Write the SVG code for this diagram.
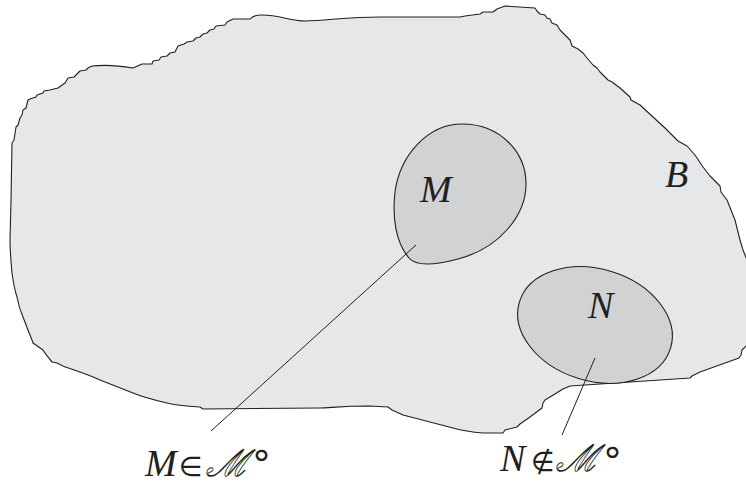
<svg xmlns="http://www.w3.org/2000/svg" width="746" height="485" viewBox="0 0 746 485">
<style>
.outline{stroke:#231f20;stroke-width:1.1;stroke-linejoin:round}
.blob{fill:#e6e7e8}
.sub{fill:#d1d2d4}
.lbl{font-family:"Liberation Serif","DejaVu Serif",serif;font-style:italic;font-size:38px;fill:#231f20}
.up{font-family:"DejaVu Sans","Liberation Serif",serif;font-style:normal;fill:#231f20}
.scr{font-family:"DejaVu Serif",serif;font-style:italic;font-size:37px;fill:#fff;stroke:#231f20;stroke-width:0.8}
.conn{stroke:#231f20;stroke-width:1;fill:none}
</style>
<g id="B">
<path class="blob outline" d="M10,240 L11,200 L12,143 L14,140 L16,127 L18,125 L20,118 L22,115 L23,110 L26,108 L28,100 L30,99 L36,97 L37,95 L43,93 L44,91 L50,90 L58,88 L65,83 L68,78 L74,77 L80,71 L86,70 L88,68 L92,66 Q110,64 133,68 L142,64 L152,64 L153,61 L159,60 L161,57 L167,56 L170,53 L175,52 L178,46 L184,44 L187,42 L193,41 L196,38 L200,37 L203,34 L207,33 L210,30 L214,29 L216,26 L225,25 L227,22 L233,19 L250,19 Q253,15 262,15 C280,15 290,21 305,21 C330,20 350,17 380,17 L460,17 L465,16 L480,14 L483,12 L493,12 L497,9 L505,6 L535,8 L537,11 L540,14 L545,15 L547,18 L550,19 L552,23 L557,25 L560,30 L565,35 L570,40 L572,46 L578,49 L583,53 L587,58 L593,65 L597,68 L600,72 L608,80 L612,82 L620,88 L630,97 L631,100 L640,105 L653,117 L665,128 L675,138 L678,141 L687,146 L695,155 L703,167 L710,176 L716,182 L720,186 L721,192 L727,200 L735,220 L740,240 L743,250 L747,260 L747,345 L742,350 L741,355 L739,358 L700,372 L692,376 L690,378 L570,386 L563,389 L550,397 L545,400 L543,403 L542,408 L530,417 L520,424 L517,427 L505,430 L503,433 L483,433 C470,432 460,430 453,428 L403,415 L392,410 L388,407 L370,406 C340,406 330,408 320,408 L203,409 L200,407 C185,406 175,405 167,403 C150,399 140,396 133,393 C115,386 105,382 100,380 C85,373 70,369 63,366 L57,363 L52,362 C50,360 49,358 48,357 C46,354 44,352 43,350 L33,343 L32,340 L30,335 C27,328 25,322 23,317 C20,310 18,303 17,297 C14,288 13,280 12,273 C11,262 10,250 10,240 Z"/>
<text class="lbl" x="665" y="187">B</text>
</g>
<g id="M">
<path class="sub outline" d="M462,124 C500,124 526,152 526,184 C526,215 500,248 458,259 C432,266 416,266 409,258 C396,243 392,218 395,192 C400,155 428,124 462,124 Z"/>
<text class="lbl" x="420" y="202">M</text>
</g>
<g id="N">
<ellipse class="sub outline" cx="595" cy="325" rx="79" ry="56" transform="rotate(17 595 325)"/>
<text class="lbl" x="588" y="318">N</text>
</g>
<g id="connectors">
<line class="conn" x1="416" y1="245" x2="211" y2="431"/>
<line class="conn" x1="595" y1="358" x2="562" y2="435"/>
</g>
<g id="label-M">
<text class="lbl" x="145" y="476">M</text>
<text class="up" x="179" y="476" font-size="27">∈</text>
<text class="scr" x="206" y="476">ℳ</text>
<text class="up" x="252" y="477" font-size="38">°</text>
</g>
<g id="label-N">
<text class="lbl" x="500" y="471">N</text>
<text class="up" x="531" y="471" font-size="27">∉</text>
<text class="scr" x="556" y="471">ℳ</text>
<text class="up" x="603" y="474" font-size="38">°</text>
</g>
</svg>
